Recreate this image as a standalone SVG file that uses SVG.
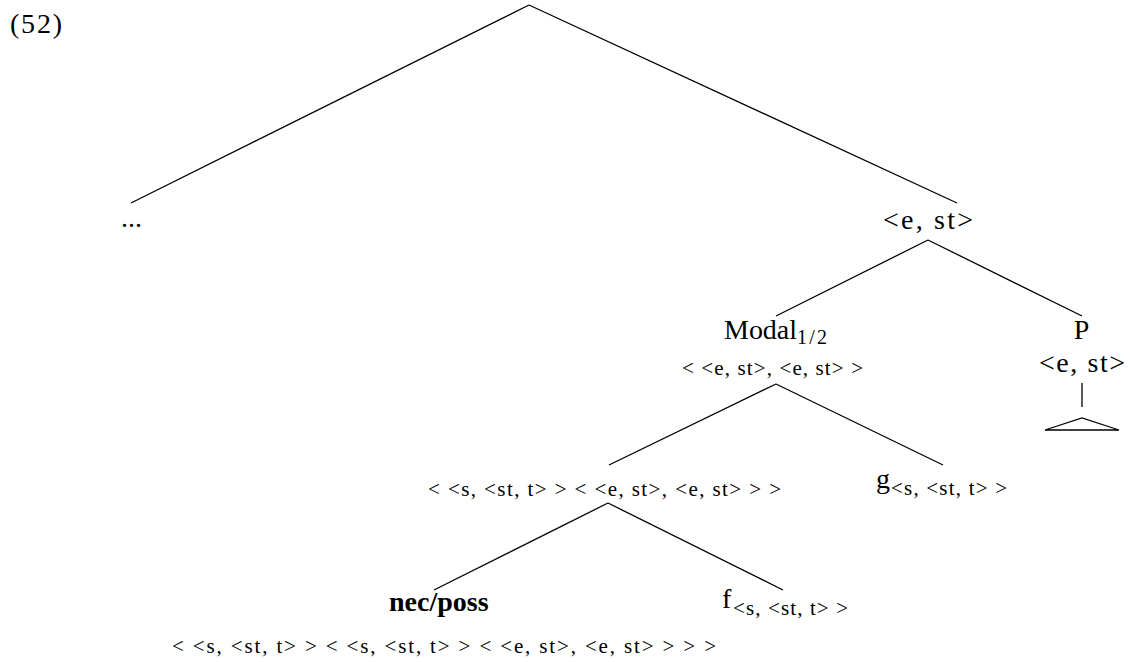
<svg xmlns="http://www.w3.org/2000/svg" width="1133" height="662" viewBox="0 0 1133 662">
<style>
text{font-family:"Liberation Serif","DejaVu Serif",serif;fill:#000}
.b{font-size:28px}
.s{font-size:21px}
.sub{font-size:20px}
.e line,.e path{stroke:#000;stroke-width:1.3;fill:none}
</style>
<rect width="1133" height="662" fill="#fff"/>
<text class="b" x="10" y="33" textLength="52">(52)</text>
<g class="e" id="connectors">
<line x1="529" y1="5" x2="131" y2="203"/>
<line x1="529" y1="5" x2="957" y2="203"/>
<line x1="928" y1="240" x2="776" y2="316"/>
<line x1="928" y1="240" x2="1082" y2="316"/>
<line x1="776" y1="384" x2="609" y2="465"/>
<line x1="776" y1="384" x2="943" y2="465"/>
<line x1="608" y1="503" x2="434" y2="590"/>
<line x1="608" y1="503" x2="783" y2="590"/>
<line x1="1082" y1="383" x2="1082" y2="407"/>
<path d="M1045 430 L1082 418 L1119 430 Z"/>
</g>
<g id="n-dots"><text class="b" x="121" y="227" textLength="21">...</text></g>
<g id="n-est"><text class="b" x="883" y="229" textLength="90">&lt;e, st&gt;</text></g>
<g id="n-modal"><text class="b" x="724" y="339"><tspan textLength="73">Modal</tspan><tspan class="sub" dy="5" textLength="30">1/2</tspan></text>
<text class="s" x="682" y="375" textLength="181">&lt; &lt;e, st&gt;, &lt;e, st&gt; &gt;</text></g>
<g id="n-p"><text class="b" x="1081.5" y="339" text-anchor="middle">P</text>
<text class="b" x="1039" y="372" textLength="86">&lt;e, st&gt;</text></g>
<g id="n-mid"><text class="s" x="428" y="496" textLength="353">&lt; &lt;s, &lt;st, t&gt; &gt; &lt; &lt;e, st&gt;, &lt;e, st&gt; &gt; &gt;</text></g>
<g id="n-g"><text class="b" x="876" y="488">g</text><text class="s" x="891" y="495" textLength="116">&lt;s, &lt;st, t&gt; &gt;</text></g>
<g id="n-nec"><text class="b" x="389" y="611" font-weight="bold">nec/poss</text>
<text class="s" x="172" y="653" textLength="544">&lt; &lt;s, &lt;st, t&gt; &gt; &lt; &lt;s, &lt;st, t&gt; &gt; &lt; &lt;e, st&gt;, &lt;e, st&gt; &gt; &gt; &gt;</text></g>
<g id="n-f"><text class="b" x="722" y="608">f</text><text class="s" x="733" y="615" textLength="115">&lt;s, &lt;st, t&gt; &gt;</text></g>
</svg>
